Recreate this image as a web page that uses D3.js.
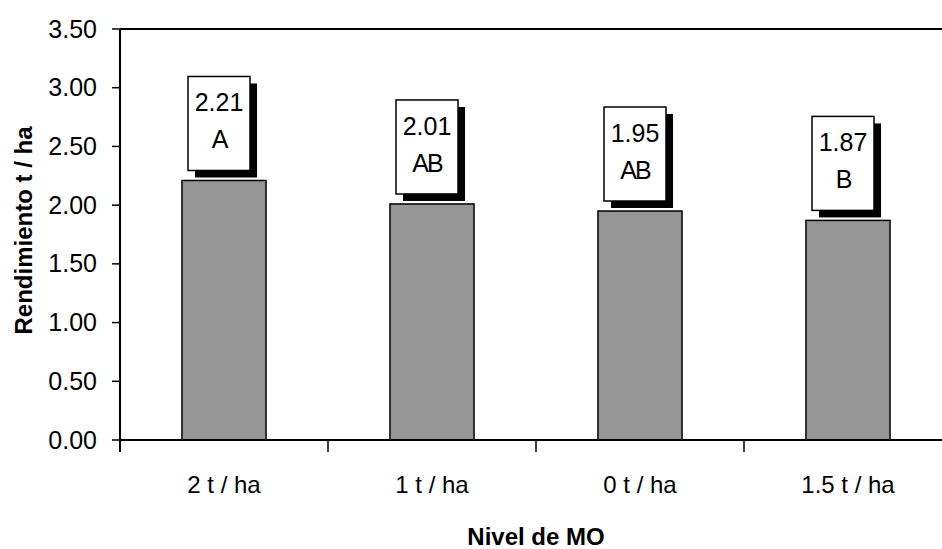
<!DOCTYPE html>
<html>
<head>
<meta charset="utf-8">
<script src="https://cdn.jsdelivr.net/npm/d3@7"></script>
<style>
  body { margin: 0; background: #fff; }
  text { font-family: 'Liberation Sans', Arial, sans-serif; fill: #000; }
</style>
</head>
<body>
<svg id="chart" width="942" height="549"></svg>
<script>
// chart data
const categories = ['2 t / ha', '1 t / ha', '0 t / ha', '1.5 t / ha']
const yields = [2.21, 2.01, 1.95, 1.87]
const groups = ['A', 'AB', 'AB', 'B']
const yTicks = [0, 0.5, 1, 1.5, 2, 2.5, 3, 3.5]

const svg = d3.select('#chart')
const plotLeft = 120
const plotTop = 29
const plotBottom = 440
const plotRight = 952

const y = d3.scaleLinear().domain([0, 3.5]).range([plotBottom, plotTop])
const x = d3.scaleBand().domain(categories).range([plotLeft, plotRight])
  .paddingInner(0.596).paddingOuter(0.298)
const step = x.step()

// top frame line
svg.append('line')
  .attr('x1', plotLeft).attr('x2', 942)
  .attr('y1', y(3.5)).attr('y2', y(3.5))
  .attr('stroke', '#000').attr('stroke-width', 2)

// bars
svg.selectAll('rect.bar')
  .data(yields)
  .join('rect')
  .attr('class', 'bar')
  .attr('x', (d, i) => x(categories[i]))
  .attr('y', d => y(d))
  .attr('width', x.bandwidth())
  .attr('height', d => y(0) - y(d))
  .attr('fill', '#969696')
  .attr('stroke', '#000')
  .attr('stroke-width', 1.5)

// label boxes with shadow
const boxW = 62
const boxH = 94
const labels = svg.selectAll('g.lbl')
  .data(yields)
  .join('g')
  .attr('class', 'lbl')
  .attr('transform', (d, i) => {
    const cx = x(categories[i]) + x.bandwidth() / 2 - 5
    return `translate(${cx - boxW / 2},${y(d) - 10 - boxH})`
  })

labels.append('rect')
  .attr('x', 7).attr('y', 7)
  .attr('width', boxW).attr('height', boxH)
  .attr('fill', '#000')
labels.append('rect')
  .attr('width', boxW).attr('height', boxH)
  .attr('fill', '#fff')
  .attr('stroke', '#000')
  .attr('stroke-width', 1.5)
labels.append('text')
  .attr('x', boxW / 2).attr('y', 35)
  .attr('text-anchor', 'middle')
  .style('font-size', '25px')
  .text(d => d.toFixed(2))
labels.append('text')
  .attr('x', boxW / 2).attr('y', 72)
  .attr('text-anchor', 'middle')
  .style('font-size', '25px')
  .style('letter-spacing', '-2px')
  .text((d, i) => groups[i])

// y axis
const yAxis = svg.append('g')
yAxis.append('line')
  .attr('x1', plotLeft).attr('x2', plotLeft)
  .attr('y1', plotTop).attr('y2', plotBottom + 12)
  .attr('stroke', '#000').attr('stroke-width', 2)
yAxis.selectAll('line.tick')
  .data(yTicks)
  .join('line')
  .attr('class', 'tick')
  .attr('x1', plotLeft - 8).attr('x2', plotLeft)
  .attr('y1', d => y(d)).attr('y2', d => y(d))
  .attr('stroke', '#000').attr('stroke-width', 1.5)
yAxis.selectAll('text')
  .data(yTicks)
  .join('text')
  .attr('x', 97)
  .attr('y', d => y(d))
  .attr('dy', '0.34em')
  .attr('text-anchor', 'end')
  .style('font-size', '25px')
  .text(d => d.toFixed(2))

// x axis
const xAxis = svg.append('g')
xAxis.append('line')
  .attr('x1', plotLeft).attr('x2', 942)
  .attr('y1', plotBottom).attr('y2', plotBottom)
  .attr('stroke', '#000').attr('stroke-width', 2)
xAxis.selectAll('line.tick')
  .data(categories.slice(1))
  .join('line')
  .attr('class', 'tick')
  .attr('x1', d => x(d) - step * 0.298)
  .attr('x2', d => x(d) - step * 0.298)
  .attr('y1', plotBottom).attr('y2', plotBottom + 12)
  .attr('stroke', '#000').attr('stroke-width', 1.5)
xAxis.selectAll('text')
  .data(categories)
  .join('text')
  .attr('x', d => x(d) + x.bandwidth() / 2)
  .attr('y', 493)
  .attr('text-anchor', 'middle')
  .style('font-size', '24px')
  .text(d => d)

// axis titles
svg.append('text')
  .attr('x', (plotLeft + plotRight) / 2)
  .attr('y', 545)
  .attr('text-anchor', 'middle')
  .style('font-size', '24px')
  .style('font-weight', 'bold')
  .text('Nivel de MO')

svg.append('text')
  .attr('transform', `translate(32,${(plotTop + plotBottom) / 2 - 4}) rotate(-90)`)
  .attr('text-anchor', 'middle')
  .style('font-size', '24px')
  .style('font-weight', 'bold')
  .text('Rendimiento t / ha')
</script>
</body>
</html>
